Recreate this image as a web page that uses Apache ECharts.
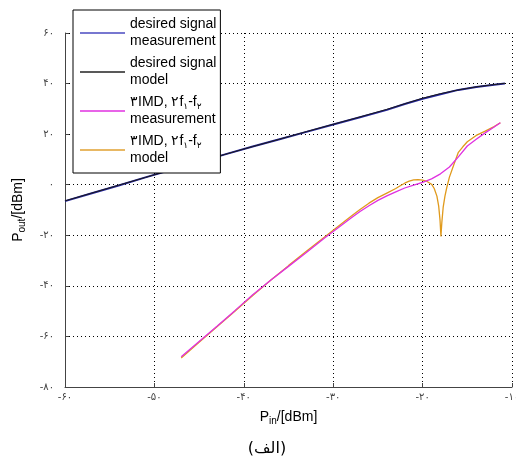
<!DOCTYPE html>
<html>
<head>
<meta charset="utf-8">
<script src="https://cdn.jsdelivr.net/npm/echarts@6/dist/echarts.min.js"></script>
<style>html,body{margin:0;padding:0;background:#fff}#c{width:516px;height:466px}</style>
</head>
<body>
<div id="c"></div>
<script>
// ---- data ----
var xTickValues = [-60, -50, -40, -30, -20, -10];
var xTickLabels = ['-۶۰', '-۵۰', '-۴۰', '-۳۰', '-۲۰', '-۱۰'];
var yTickValues = [-80, -60, -40, -20, 0, 20, 40, 60];
var yTickLabels = ['-۸۰', '-۶۰', '-۴۰', '-۲۰', '۰', '۲۰', '۴۰', '۶۰'];

var seriesNames = ['desired signal\nmeasurement', 'desired signal\nmodel', '۳IMD, ۲f۱-f۲\nmeasurement', '۳IMD, ۲f۱-f۲\nmodel'];
var legendRich = ['desired signal\nmeasurement', 'desired signal\nmodel', '۳IMD, ۲f{s|۱}-f{s|۲}\nmeasurement', '۳IMD, ۲f{s|۱}-f{s|۲}\nmodel'];

var desiredX = [-60, -57, -54, -51, -48, -45, -42, -39, -36, -33, -30, -27, -24, -22, -20, -18, -16, -14, -12, -10.8];
var desiredMeasY = [-6.5, -3.4, -0.3, 2.9, 6.0, 9.0, 12.1, 15.1, 18.0, 20.9, 23.8, 26.7, 29.6, 31.9, 34.0, 35.8, 37.5, 38.6, 39.5, 40.0];
var desiredModelY = [-6.4, -3.3, -0.2, 2.9, 6.0, 9.1, 12.1, 15.1, 18.0, 21.0, 23.9, 26.8, 29.8, 32.0, 34.2, 36.0, 37.5, 38.7, 39.6, 40.1];

var imdMeasX = [-47, -45, -43, -41, -39, -37, -35, -33, -31, -30, -29, -28, -27, -26, -25, -24, -23, -22, -21, -20, -19, -18, -17, -16, -15, -14, -13, -12, -11.3];
var imdMeasY = [-68, -62, -56, -49.8, -43.5, -37.8, -32.3, -26.8, -21.2, -18.5, -15.8, -13.2, -10.6, -8.3, -6.2, -4.4, -2.8, -1.3, -0.2, 0.9, 2.3, 4.3, 7.0, 11.0, 15.3, 18.0, 20.5, 22.8, 24.5];

var imdModelX = [-47, -45, -43, -41, -39, -37, -35, -33, -31, -30, -29, -28, -27, -26, -25, -24, -23, -22.5, -22, -21.5, -21, -20.5, -20, -19.5, -19, -18.7, -18.4, -18.2, -18.05, -17.95, -17.85, -17.7, -17.5, -17.3, -17, -16.5, -16, -15.5, -15, -14, -13, -12, -11.3];
var imdModelY = [-68.5, -62.3, -56.2, -50, -43.8, -37.8, -32, -26.3, -20.8, -18, -15.2, -12.5, -9.8, -7.3, -5.1, -3.3, -1.5, -0.4, 0.6, 1.4, 1.9, 2.0, 1.8, 1.3, 0.2, -1.5, -4.5, -8.5, -14, -20.5, -15, -9, -4.5, -1.2, 3.0, 8.0, 12.8, 15.0, 17.0, 19.5, 21.2, 23.0, 24.5];

function pairs(xs, ys) { return xs.map(function (x, i) { return [x, ys[i]]; }); }

var chart = echarts.init(document.getElementById('c'), null, { renderer: 'canvas' });
var dotted = { show: true, lineStyle: { color: '#000', type: [1, 3], width: 1 } };

chart.setOption({
  animation: false,
  backgroundColor: '#fff',
  title: {
    text: '(الف)', left: 262, top: 436, textAlign: 'center',
    textStyle: { fontSize: 16, fontWeight: 'normal', color: '#000', fontFamily: 'DejaVu Sans' }
  },
  grid: { left: 65, right: 4, top: 33, bottom: 79, containLabel: false, outerBoundsMode: 'none' },
  legend: {
    orient: 'vertical', left: 73, top: 10,
    data: seriesNames,
    icon: 'rect', itemWidth: 45, itemHeight: 1.5, itemGap: 5,
    padding: [6, 4, 6, 7],
    backgroundColor: '#fff', borderColor: '#000', borderWidth: 1,
    formatter: function (name) { return legendRich[seriesNames.indexOf(name)]; },
    textStyle: {
      fontSize: 14, lineHeight: 17, color: '#000', fontFamily: 'Liberation Sans, Arial',
      rich: { s: { fontSize: 9, lineHeight: 17, verticalAlign: 'bottom', padding: [6, 0, 0, 0], fontFamily: 'DejaVu Sans' } }
    },
    selectedMode: false
  },
  xAxis: {
    type: 'value', min: -60, max: -10, interval: 10,
    name: 'P{s|in}/[dBm]', nameLocation: 'middle', nameGap: 22,
    nameTextStyle: { fontSize: 14, color: '#000', fontFamily: 'Liberation Sans, Arial',
      rich: { s: { fontSize: 10, verticalAlign: 'bottom', padding: [7, 0, 0, 0] } } },
    axisLine: { show: true, onZero: false, lineStyle: { color: '#444', width: 1 } },
    axisTick: { show: true, inside: true, length: 4, lineStyle: { color: '#444' } },
    axisLabel: { margin: 5, formatter: function (v) { var i = xTickValues.indexOf(v); return i >= 0 ? xTickLabels[i] : ''; }, fontSize: 10, color: '#444', fontFamily: 'DejaVu Sans' },
    splitLine: dotted
  },
  yAxis: {
    type: 'value', min: -80, max: 60, interval: 20,
    name: 'P{s|out}/[dBm]', nameLocation: 'middle', nameGap: 38,
    nameTextStyle: { fontSize: 14, color: '#000', fontFamily: 'Liberation Sans, Arial',
      rich: { s: { fontSize: 10, verticalAlign: 'bottom', padding: [7, 0, 0, 0] } } },
    axisLine: { show: true, onZero: false, lineStyle: { color: '#444', width: 1 } },
    axisTick: { show: true, inside: true, length: 4, lineStyle: { color: '#444' } },
    axisLabel: { margin: 11, formatter: function (v) { var i = yTickValues.indexOf(v); return i >= 0 ? yTickLabels[i] : ''; }, fontSize: 10, color: '#444', fontFamily: 'DejaVu Sans' },
    splitLine: dotted
  },
  series: [
    { name: seriesNames[0], type: 'line', data: pairs(desiredX, desiredMeasY), showSymbol: false, symbol: 'none',
      lineStyle: { color: '#24249c', width: 2 }, itemStyle: { color: '#4a4ac0' }, z: 2 },
    { name: seriesNames[1], type: 'line', data: pairs(desiredX, desiredModelY), showSymbol: false, symbol: 'none',
      lineStyle: { color: '#1a1a1a', width: 1 }, itemStyle: { color: '#222' }, z: 3 },
    { name: seriesNames[3], type: 'line', data: pairs(imdModelX, imdModelY), showSymbol: false, symbol: 'none',
      lineStyle: { color: '#e09a1c', width: 1.3 }, itemStyle: { color: '#e0a030' }, z: 2 },
    { name: seriesNames[2], type: 'line', data: pairs(imdMeasX, imdMeasY), showSymbol: false, symbol: 'none',
      lineStyle: { color: '#e030e0', width: 1.3 }, itemStyle: { color: '#e030e0' }, z: 3 }
  ]
});
</script>
</body>
</html>
